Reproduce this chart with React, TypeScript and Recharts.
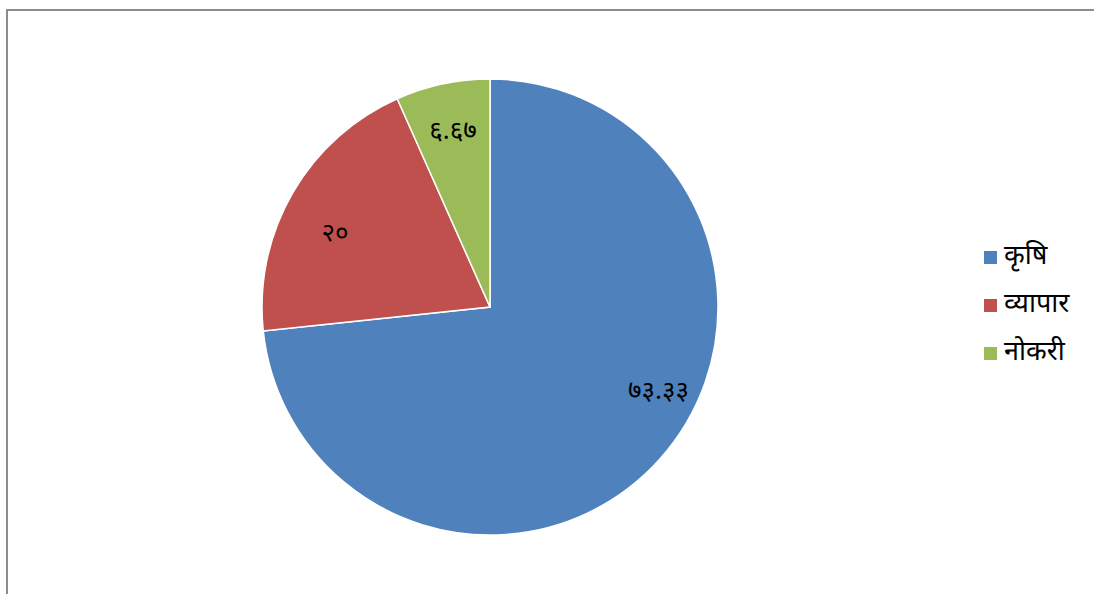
import React from 'react';
import { PieChart, Pie, Cell, Legend } from 'recharts';

const categories = ['कृषि', 'व्यापार', 'नोकरी'];
const values = [73.33, 20, 6.67];
const valueLabels = ['७३.३३', '२०', '६.६७'];

const COLORS = ['#4f81bd', '#c0504d', '#9bbb59'];
const FONT = '"Noto Sans Devanagari", "Noto Sans", "DejaVu Sans", sans-serif';

const data = categories.map((name, i) => ({ name, value: values[i], label: valueLabels[i] }));

const RADIAN = Math.PI / 180;
// Excel "best fit" nudges labels off the mid angle a little
const ANGLE_NUDGE = [15, 5, 0];
const RADIUS_FACTOR = [0.83, 0.75, 0.78];

const renderLabel = (props: any) => {
    const { cx, cy, midAngle, outerRadius, index } = props;
    const angle = midAngle + ANGLE_NUDGE[index];
    const r = outerRadius * RADIUS_FACTOR[index];
    const x = cx + r * Math.cos(-angle * RADIAN);
    const y = cy + r * Math.sin(-angle * RADIAN);
    return (
        <text x={x} y={y} fill="#000" fontSize={26} fontFamily={FONT} textAnchor="middle" dominantBaseline="central">
            {data[index].label}
        </text>
    );
};

const renderLegend = () => (
    <div style={{ fontFamily: FONT }}>
        {data.map((d, i) => (
            <div key={d.name} style={{ display: 'flex', alignItems: 'center', height: 48 }}>
                <span style={{ width: 13, height: 13, background: COLORS[i], marginRight: 7 }} />
                <span style={{ fontSize: 27, color: '#000' }}>{d.name}</span>
            </div>
        ))}
    </div>
);

export default function App() {
    return (
        <div style={{ position: 'absolute', left: 0, top: 0, width: 1094, height: 594, overflow: 'hidden', background: '#fff' }}>
            <div style={{ position: 'absolute', left: 6, top: 9, width: 1200, height: 700, border: '2px solid #8c8c8c' }} />
            <PieChart width={1094} height={594} margin={{ top: 0, right: 0, bottom: 0, left: 0 }}>
                <Pie
                    data={data}
                    dataKey="value"
                    nameKey="name"
                    cx={490}
                    cy={307}
                    outerRadius={228}
                    startAngle={90}
                    endAngle={-270}
                    stroke="#fff"
                    strokeWidth={1.5}
                    label={renderLabel}
                    labelLine={false}
                    isAnimationActive={false}
                >
                    {data.map((entry, index) => (
                        <Cell key={`cell-${index}`} fill={COLORS[index]} />
                    ))}
                </Pie>
                <Legend
                    layout="vertical"
                    content={renderLegend}
                    wrapperStyle={{ left: 984, top: 233, width: 110 }}
                />
            </PieChart>
        </div>
    );
}
